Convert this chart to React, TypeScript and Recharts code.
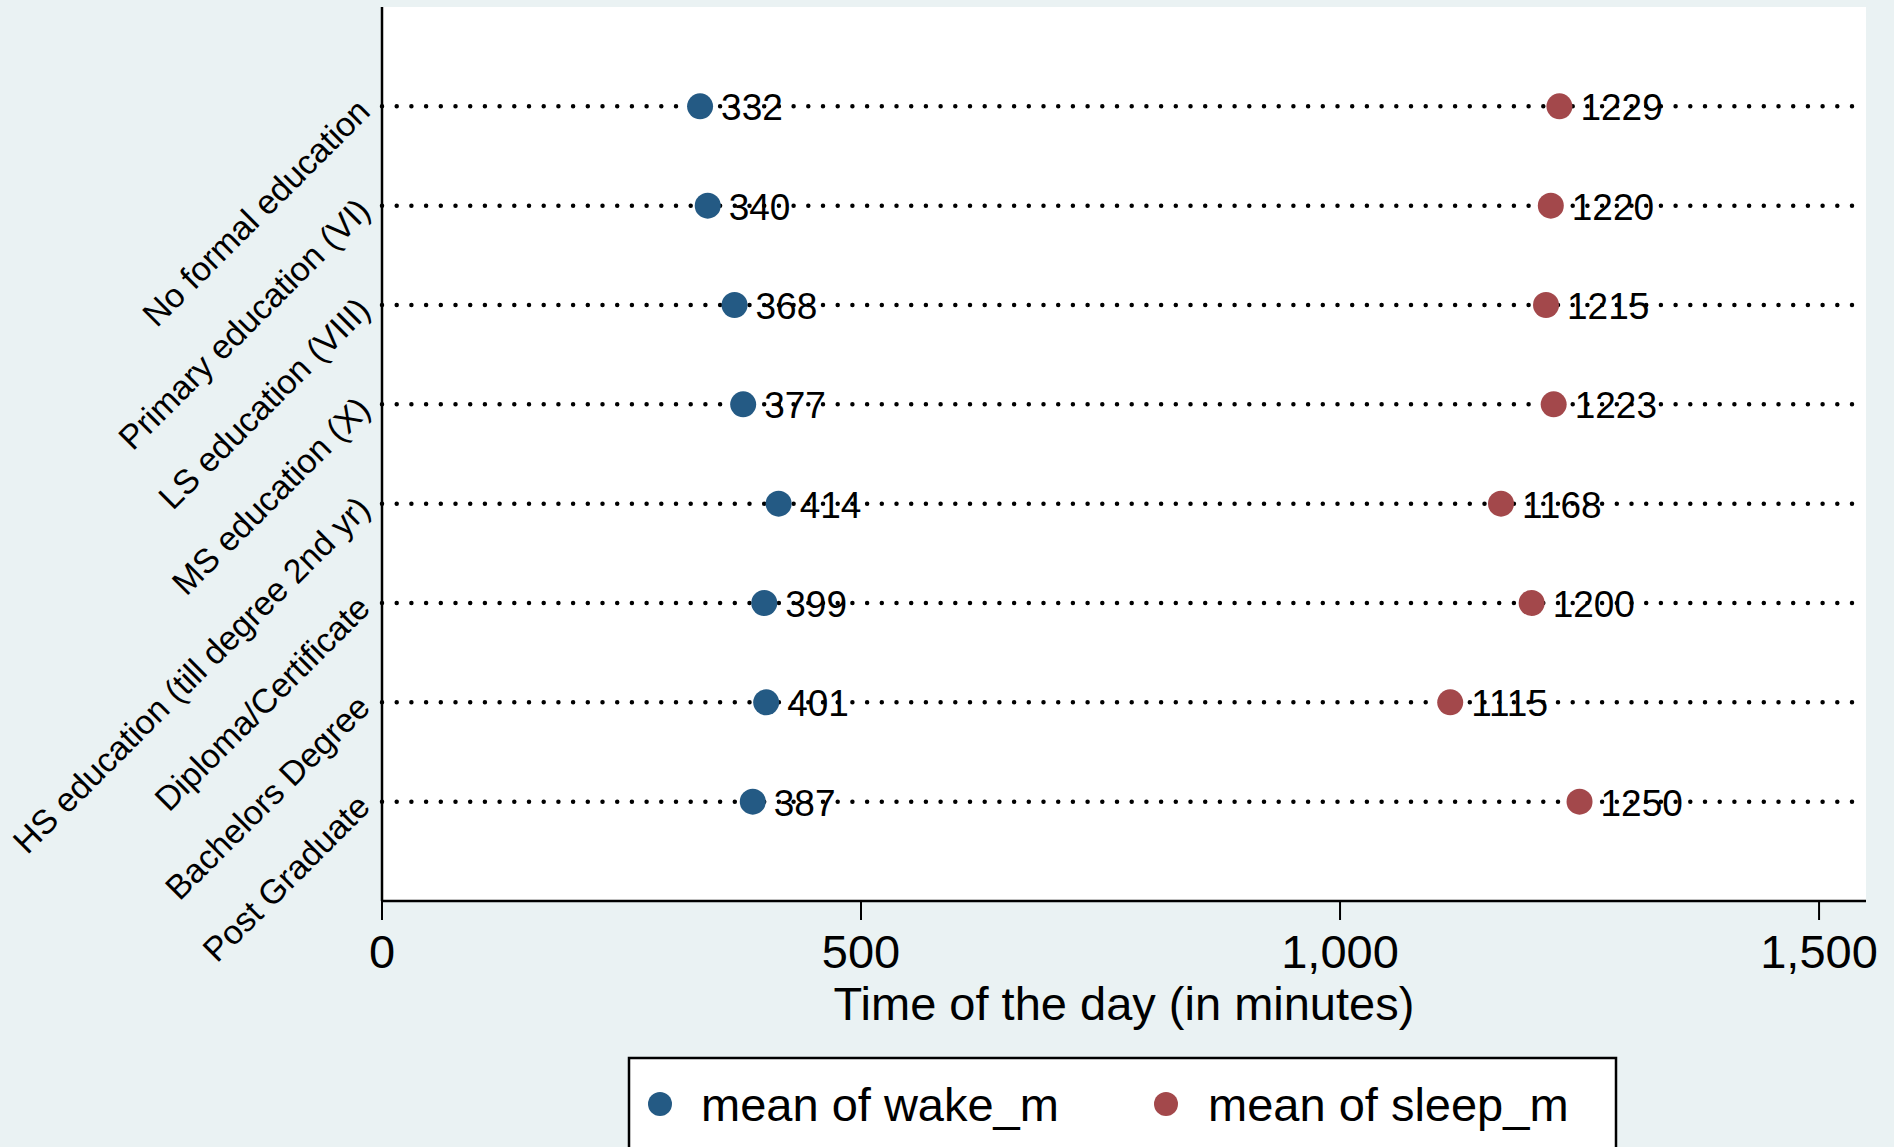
import React from 'react';
import { ScatterChart, Scatter, XAxis, YAxis, CartesianGrid } from 'recharts';

const categories = [
  'No formal education',
  'Primary education (VI)',
  'LS education (VIII)',
  'MS education (X)',
  'HS education (till degree 2nd yr)',
  'Diploma/Certificate',
  'Bachelors Degree',
  'Post Graduate',
];
const wakeMeans = [332, 340, 368, 377, 414, 399, 401, 387];
const sleepMeans = [1229, 1220, 1215, 1223, 1168, 1200, 1115, 1250];
const xTicks = [0, 500, 1000, 1500];
const rowTicks = [1, 2, 3, 4, 5, 6, 7, 8];

const BLUE = '#245a84';
const RED = '#a3484b';
const BG = '#eaf2f3';
const FONT = '"Liberation Sans", Arial, Helvetica, sans-serif';

const wakeData = categories.map((c, i) => ({ row: i + 1, value: wakeMeans[i], name: c }));
const sleepData = categories.map((c, i) => ({ row: i + 1, value: sleepMeans[i], name: c }));

const makeDot = (color: string) => (props: any) => {
  const { cx, cy, payload } = props;
  return (
    <g>
      <circle cx={cx} cy={cy} r={13} fill={color} />
      <text x={cx + 21} y={cy + 14} fontSize={37} fontFamily={FONT} fill="#000">
        {payload.value}
      </text>
    </g>
  );
};

const YTick = ({ x, y, payload }: any) => {
  const label = categories[payload.value - 1] || '';
  const tx = x - 2;
  const ty = y + 7;
  return (
    <text
      x={tx}
      y={ty}
      textAnchor="end"
      fontSize={34}
      fontFamily={FONT}
      fill="#000"
      transform={`rotate(-45, ${tx}, ${ty})`}
    >
      {label}
    </text>
  );
};

// dotted row guide with round caps; skip the lines the grid adds at the plot edges
const dottedRow = (p: any) => {
  const key = p.key ?? `row-${p.index}`;
  if (typeof p.y === 'number' && typeof p.height === 'number') {
    if (Math.abs(p.y1 - p.y) < 2 || Math.abs(p.y1 - (p.y + p.height)) < 2) return <g key={key} />;
  }
  return (
    <line
      key={key}
      x1={p.x1}
      y1={p.y1}
      x2={p.x2}
      y2={p.y2}
      stroke="#000"
      strokeWidth={4.5}
      strokeDasharray="0 14.7"
      strokeLinecap="round"
      fill="none"
    />
  );
};

export default function App() {
  return (
    <div style={{ position: 'absolute', left: 0, top: 0, width: 1894, height: 1147, background: BG, overflow: 'hidden' }}>
      <ScatterChart width={1894} height={1147} margin={{ top: 7, right: 28, left: 0, bottom: 0 }}>
        <CartesianGrid fill="#fff" vertical={false} horizontal={dottedRow} />
        <XAxis
          type="number"
          dataKey="value"
          domain={[0, 1549]}
          ticks={xTicks}
          allowDataOverflow
          height={246}
          tickSize={19}
          tickMargin={15}
          tickFormatter={(v: number) => v.toLocaleString('en-US')}
          tick={{ fontSize: 47, fontFamily: FONT, fill: '#000' }}
          axisLine={{ stroke: '#000', strokeWidth: 2.5 }}
          tickLine={{ stroke: '#000', strokeWidth: 2 }}
          label={{
            value: 'Time of the day (in minutes)',
            position: 'insideTop',
            offset: 86,
            fontSize: 47,
            fontFamily: FONT,
            fill: '#000',
          }}
        />
        <YAxis
          type="number"
          dataKey="row"
          domain={[0, 9]}
          ticks={rowTicks}
          reversed
          width={382}
          tickLine={false}
          axisLine={{ stroke: '#000', strokeWidth: 2.5 }}
          tick={<YTick />}
          interval={0}
        />
        <Scatter name="mean of wake_m" data={wakeData} shape={makeDot(BLUE)} isAnimationActive={false} />
        <Scatter name="mean of sleep_m" data={sleepData} shape={makeDot(RED)} isAnimationActive={false} />
      </ScatterChart>
      <svg width={1894} height={1147} style={{ position: 'absolute', left: 0, top: 0, pointerEvents: 'none' }}>
        <rect x={629} y={1058} width={987} height={120} fill="#fff" stroke="#000" strokeWidth={2.5} />
        <circle cx={660} cy={1104} r={12} fill={BLUE} />
        <text x={701} y={1121} fontSize={47} fontFamily={FONT} fill="#000">mean of wake_m</text>
        <circle cx={1166} cy={1104} r={12} fill={RED} />
        <text x={1208} y={1121} fontSize={47} fontFamily={FONT} fill="#000">mean of sleep_m</text>
      </svg>
    </div>
  );
}
